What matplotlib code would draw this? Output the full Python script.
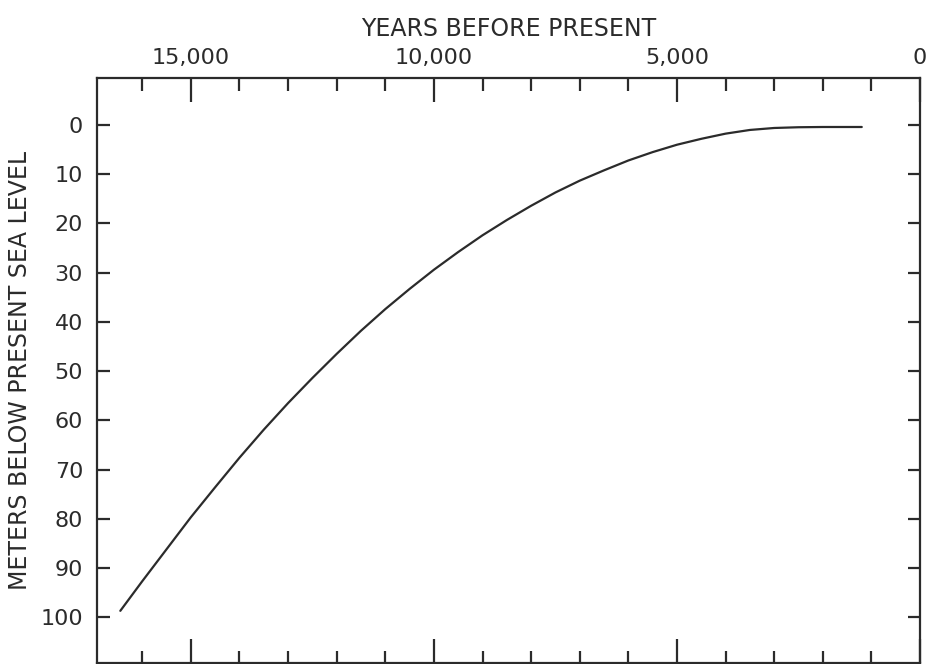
import matplotlib
matplotlib.use("Agg")

import matplotlib.pyplot as plt
from matplotlib.ticker import MultipleLocator, FixedLocator

# sea level curve (years before present, meters below present)
years = [16450, 16000, 15500, 15000, 14500, 14000, 13500, 13000, 12500, 12000,
         11500, 11000, 10500, 10000, 9500, 9000, 8500, 8000, 7500, 7000,
         6500, 6000, 5500, 5000, 4500, 4000, 3500, 3000, 2500, 2000, 1200]
depth = [98.7, 92.7, 86.2, 79.7, 73.6, 67.6, 61.9, 56.5, 51.4, 46.5,
         41.8, 37.4, 33.3, 29.4, 25.8, 22.4, 19.3, 16.4, 13.7, 11.3,
         9.2, 7.2, 5.5, 4.0, 2.8, 1.75, 1.0, 0.6, 0.45, 0.4, 0.4]

year_ticks = [15000, 10000, 5000, 0]
year_labels = ["15,000", "10,000", "5,000", "0"]
depth_ticks = [0, 10, 20, 30, 40, 50, 60, 70, 80, 90, 100]

ink = "#2b2b2b"

fig = plt.figure(figsize=(9.28, 6.64), dpi=100)
ax = fig.add_axes([0.1045, 0.0015, 0.887, 0.881])

ax.plot(years, depth, color=ink, linewidth=1.6, solid_capstyle="round")

ax.set_xlim(16930, 0)
ax.set_ylim(109.3, -9.55)

ax.xaxis.set_major_locator(FixedLocator(year_ticks))
ax.set_xticklabels(year_labels)
ax.xaxis.set_minor_locator(MultipleLocator(1000))
ax.set_yticks(depth_ticks)

ax.tick_params(axis="x", which="both", top=True, bottom=True,
               labeltop=True, labelbottom=False, direction="in",
               color=ink, labelcolor=ink, labelsize=16, pad=7)
ax.tick_params(axis="x", which="major", length=17, width=1.6)
ax.tick_params(axis="x", which="minor", length=9, width=1.6)
ax.tick_params(axis="y", which="major", left=True, right=True,
               labelleft=True, labelright=False, direction="in",
               length=9, width=1.6, color=ink, labelcolor=ink,
               labelsize=16, pad=10)

for spine in ax.spines.values():
    spine.set_linewidth(1.6)
    spine.set_color(ink)

ax.set_title("YEARS BEFORE PRESENT", color=ink, fontsize=17, pad=30)
ax.set_ylabel("METERS BELOW PRESENT SEA LEVEL", color=ink, fontsize=17,
              labelpad=6)

plt.savefig("out.png", dpi=100)
plt.close(fig)
